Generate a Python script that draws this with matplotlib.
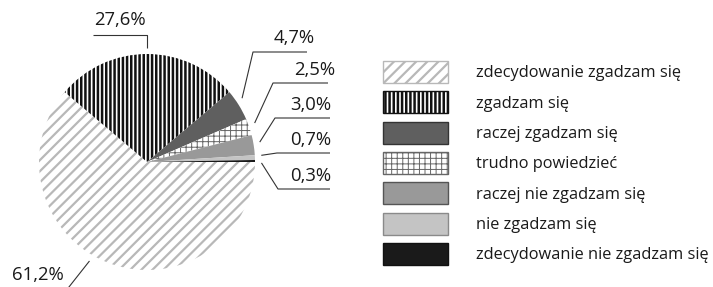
import matplotlib
matplotlib.use("Agg")
import matplotlib.pyplot as plt
from matplotlib.patches import Patch
import numpy as np

plt.rcParams['font.family'] = ['Open Sans', 'DejaVu Sans']
plt.rcParams['hatch.linewidth'] = 1.5

# data
categories = ["zdecydowanie zgadzam się", "zgadzam się", "raczej zgadzam się",
              "trudno powiedzieć", "raczej nie zgadzam się", "nie zgadzam się",
              "zdecydowanie nie zgadzam się"]
values = [61.2, 27.6, 4.7, 2.5, 3.0, 0.7, 0.3]

# styles
faces = ["white", "white", "#5f5f5f", "white", "#999999", "#c4c4c4", "#1a1a1a"]
edges = ["#b8b8b8", "#111111", "#333333", "#666666", "#555555", "#8a8a8a", "#111111"]
hatches = ["///", "||||", None, "+++", None, None, None]
hatch_lw = [1.6, 1.8, 1.0, 0.7, 1.0, 1.0, 1.0]


def set_hlw(p, lw):
    # per-patch hatch width (falls back to the rc value on older matplotlib)
    if hasattr(p, "set_hatch_linewidth"):
        p.set_hatch_linewidth(lw)
    p._hatch_linewidth = lw


# label layout in pixel coords (y measured from top)
elbows = [(65, 292), (147, 35), (253, 52), (273, 83), (275, 118), (277, 153), (278, 189)]
ends = [(65, 292), (93, 35), (307, 52), (328, 83), (330, 118), (330, 153), (330, 189)]
text_pos = [(38, 275), (120, 20), (294, 38), (315, 70), (311, 105), (311, 140), (311, 176)]
angle_tweak = [-10, 0, 2, 1, 1, 1, -1]

W, H = 713, 287
fig = plt.figure(figsize=(W / 100, H / 100), dpi=100)
ax = fig.add_axes([0, 0, 1, 1])

cx, cy, r = 147, H - 162, 108
wedges, _ = ax.pie(values, colors=faces, startangle=0, counterclock=False,
                   center=(cx, cy), radius=r, wedgeprops=dict(linewidth=0))
for w, ec, h, hl in zip(wedges, edges, hatches, hatch_lw):
    w.set_edgecolor(ec)
    if h:
        w.set_hatch(h)
        set_hlw(w, hl)

ax.set_xlim(0, W)
ax.set_ylim(0, H)
ax.set_aspect('equal')
ax.axis('off')

for w, v, el, en, tp, tw in zip(wedges, values, elbows, ends, text_pos, angle_tweak):
    ang = np.deg2rad((w.theta1 + w.theta2) / 2 + tw)
    ax_ = cx + r * 1.06 * np.cos(ang)
    ay_ = cy + r * 1.06 * np.sin(ang)
    ax.plot([ax_, el[0], en[0]], [ay_, H - el[1], H - en[1]], color="#333333", lw=0.8,
            solid_capstyle='butt')
    ax.text(tp[0], H - tp[1], f"{v:.1f}".replace('.', ',') + "%", ha='center', va='center',
            fontsize=13.3, color="#1a1a1a")

handles = []
for f, e, h, hl in zip(faces, edges, hatches, hatch_lw):
    p = Patch(facecolor=f, edgecolor=e, hatch=h, linewidth=1.0)
    if h:
        set_hlw(p, hl)
    handles.append(p)
leg = ax.legend(handles, categories, loc='upper left', bbox_to_anchor=(383 / W, 1 - 61 / H),
                frameon=False, fontsize=11.8, handlelength=3.95, handleheight=1.7,
                labelspacing=0.5, handletextpad=1.75, borderpad=0, borderaxespad=0)
for t, p in zip(leg.get_texts(), leg.legend_handles):
    t.set_color("#1a1a1a")
for p, hl in zip(leg.legend_handles, hatch_lw):
    set_hlw(p, hl)

fig.savefig("out.png", dpi=100)
